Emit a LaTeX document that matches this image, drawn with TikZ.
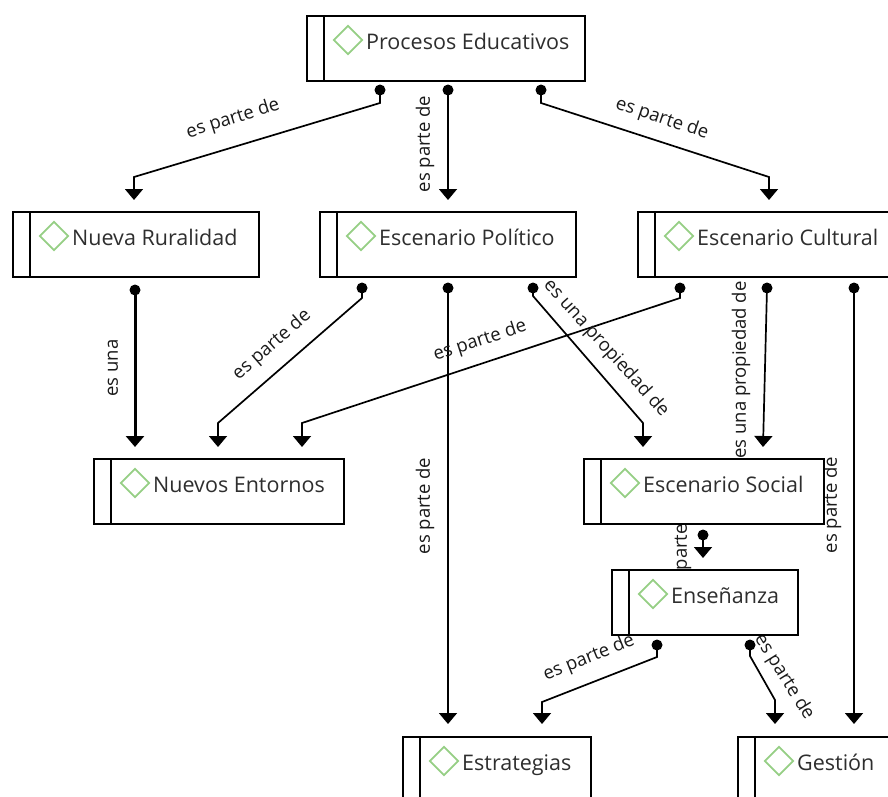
\documentclass[tikz,border=0pt]{standalone}
\usepackage{fontspec}
\setmainfont{Open Sans}
\usetikzlibrary{arrows.meta,shapes.geometric,calc}
\definecolor{dgreen}{HTML}{96CF85}
\definecolor{txt}{HTML}{2E2E2E}
\definecolor{ltxt}{HTML}{1A1A1A}
\tikzset{
 cbox/.style={draw=black, line width=1.7pt, fill=white, minimum height=65pt, inner sep=0pt, rectangle},
 dia/.style={diamond, draw=dgreen, line width=1.7pt, minimum width=29pt, minimum height=29pt, inner sep=0pt},
 ctext/.style={font=\fontsize{21.5}{25}\selectfont, text=txt, inner sep=0pt},
 lbl/.style={font=\fontsize{18.5}{21}\selectfont, text=ltxt, inner sep=0pt},
 conn/.style={line width=1.7pt, -{Triangle[width=18pt,length=11pt]}},
 thickconn/.style={line width=3pt, -{Triangle[width=18pt,length=11pt]}},
 dotc/.style={circle, fill=black, inner sep=0pt, minimum size=11pt},
}
\newcommand\conceptbox[5]{%
 \node[cbox, minimum width=#4pt, anchor=north west] (#1) at (#2,#3) {};
 \draw[line width=1.7pt] ([xshift=18pt]#1.north west) -- ([xshift=18pt]#1.south west);
 \node[dia] (#1d) at ([xshift=42pt,yshift=-25pt]#1.north west) {};
 \path ([xshift=60pt,yshift=-34pt]#1.north west) node[ctext, anchor=base west] (#1t) {#5};
}
\begin{document}
\begin{tikzpicture}[x=1pt,y=-1pt]
\useasboundingbox (0,0) rectangle (888,796);
\clip (0,0) rectangle (888,796);
\fill[white] (0,0) rectangle (888,796);

% dots (sources) and tips (targets)
\foreach \n/\x/\y in {d1/380/90, d2/448/90, d3/541/90, d4/135/290, d5/362/288, d6/680/288, d7/448/288, d8/533/288, d9/767/288, d10/854/288, d11/703/535, d12/657/645, d13/750/645}
  \node[dotc] (\n) at (\x,\y) {};
\foreach \n/\x/\y in {t1/134/200, t2/448/200, t3/769/200, t4/135/447, t5/218/447, t6/302/447, t7/448/724, t8/643/447, t9/763/447, t10/854/724, t11/703/558, t12/542/724, t13/775/724}
  \coordinate (\n) at (\x,\y);

% connectors
\draw[conn] (d1.center) -- ++(0,13) -- ($(t1)+(0,-23)$) -- (t1);
\draw[conn] (d2.center) -- (t2);
\draw[conn] (d3.center) -- ++(0,13) -- ($(t3)+(0,-23)$) -- (t3);
\draw[thickconn] (d4.center) -- (t4);
\draw[conn] (d5.center) -- ++(0,10) -- ($(t5)+(0,-24)$) -- (t5);
\draw[conn] (d6.center) -- ++(0,10) -- ($(t6)+(0,-24)$) -- (t6);
\draw[conn] (d7.center) -- (t7);
\draw[conn] (d8.center) -- ++(0,8) -- ($(t8)+(0,-24)$) -- (t8);
\draw[conn] (d9.center) -- (t9);
\draw[conn] (d10.center) -- (t10);
\draw[conn] (d11.center) -- (t11);
\draw[conn] (d12.center) -- ++(0,12) -- ($(t12)+(0,-22)$) -- (t12);
\draw[conn] (d13.center) -- ++(0,11) -- ($(t13)+(0,-24)$) -- (t13);

% labels
\node[lbl, rotate=17.5] (l1) at (233,119) {es parte de};
\node[lbl, rotate=90] (l2) at (425,144) {es parte de};
\node[lbl, rotate=-18.5] (l3) at (662,119) {es parte de};
\node[lbl, rotate=90] (l4) at (113,368) {es una};
\node[lbl, rotate=41] (l5) at (272,345) {es parte de};
\node[lbl, rotate=18] (l6) at (480,341) {es parte de};
\node[lbl, rotate=90] (l7) at (425,506) {es parte de};
\node[lbl, rotate=-48] (l8) at (606,348) {es una propiedad de};
\node[lbl, rotate=90] (l9) at (741,370) {es una propiedad de};
\node[lbl, rotate=90] (l10) at (832,505) {es parte de};
\node[lbl, rotate=90] (l11) at (682,546) {es parte de};
\node[lbl, rotate=22] (l12) at (589,658) {es parte de};
\node[lbl, rotate=-58] (l13) at (784,677) {es parte de};

% concept boxes
\conceptbox{pe}{306}{15}{278}{Procesos Educativos}
\conceptbox{nr}{12}{211}{246}{Nueva Ruralidad}
\conceptbox{ep}{319}{211}{256}{Escenario Político}
\conceptbox{ec}{637}{211}{270}{Escenario Cultural}
\conceptbox{ne}{93}{458}{250}{Nuevos Entornos}
\conceptbox{es}{583}{458}{240}{Escenario Social}
\conceptbox{en}{611}{569}{186}{Enseñanza}
\conceptbox{et}{402}{736}{188}{Estrategias}
\conceptbox{ge}{737}{736}{180}{Gestión}
\end{tikzpicture}
\end{document}
